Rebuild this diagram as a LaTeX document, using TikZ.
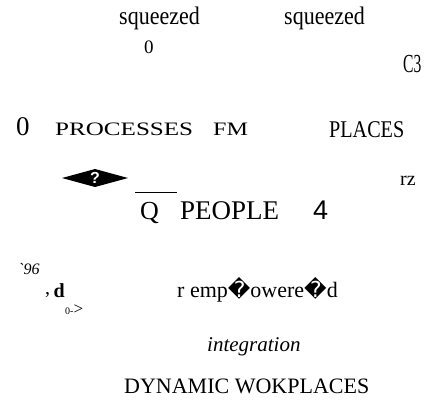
\documentclass[tikz,border=0pt]{standalone}
\usepackage{fontspec}
\setmainfont{Liberation Serif}
\newfontfamily\rawserif[Ligatures=TeXOff]{Liberation Serif}
\newfontfamily\dejavu{DejaVu Sans}
\newfontfamily\libsans{Liberation Sans}
\newcommand{\fs}[1]{\fontsize{#1}{#1}\selectfont}
\newcommand{\repl}{{\dejavu\char"FFFD}}
\begin{document}
\begin{tikzpicture}[x=1pt,y=-1pt,
  txt/.style={inner sep=0pt, anchor=base west}]
\useasboundingbox (0,0) rectangle (427,399);
\fill[white] (0,0) rectangle (427,399);
\node[txt, font=\fs{22}] (sq1) at (119,24) {\scalebox{1}[1.15]{squeezed}};
\node[txt, font=\fs{22}] (sq2) at (284,24) {\scalebox{1}[1.15]{squeezed}};
\node[txt, font=\fs{19}] (zeroA) at (144,53) {0};
\node[txt, font=\fs{26}] (c3) at (403,72) {\scalebox{0.6}[1]{C3}};
\node[txt, font=\fs{27}] (zeroB) at (16,135) {0};
\node[txt, font=\fs{19}] (proc) at (55,135) {\scalebox{1.32}[1]{PROCESSES}};
\node[txt, font=\fs{19}] (fm) at (213,135) {\scalebox{1.27}[1]{FM}};
\node[txt, font=\fs{24}] (places) at (329,137) {\scalebox{0.84}[1]{PLACES}};
% replacement-glyph diamond
\fill (62,178) -- (95,169) -- (128,178) -- (95,187) -- cycle;
\node[font=\fs{16}\libsans\bfseries, text=white, inner sep=0pt] (qm) at (95,178) {?};
\coordinate (olA) at (135,192);
\coordinate (olB) at (177,192);
\draw[line width=0.8pt] (olA) -- (olB);
\node[txt, font=\fs{26}] (q) at (140,219) {Q};
\node[txt, font=\fs{27}] (people) at (180,219) {PEOPLE};
\node[txt, font=\fs{27}\libsans] (four) at (313,219) {4};
\node[txt, font=\fs{20}] (rz) at (400,185) {rz};
\node[txt, font=\fs{16}\rawserif\itshape] (n96) at (18,274) {`96};
\node[txt, font=\fs{20}] (cd) at (45,297) {\raisebox{3pt}{,}\,\textbf{d}};
\node[txt] (arr) at (65,314) {{\fs{10}0-}{\fs{17}>}};
\node[txt, font=\fs{22}] (emp) at (177,297) {r emp\repl owere\repl d};
\node[txt, font=\fs{21}\itshape] (integ) at (207,351) {integration};
\node[txt, font=\fs{22}] (dyn) at (124,393) {DYNAMIC WOKPLACES};
\end{tikzpicture}
\end{document}
